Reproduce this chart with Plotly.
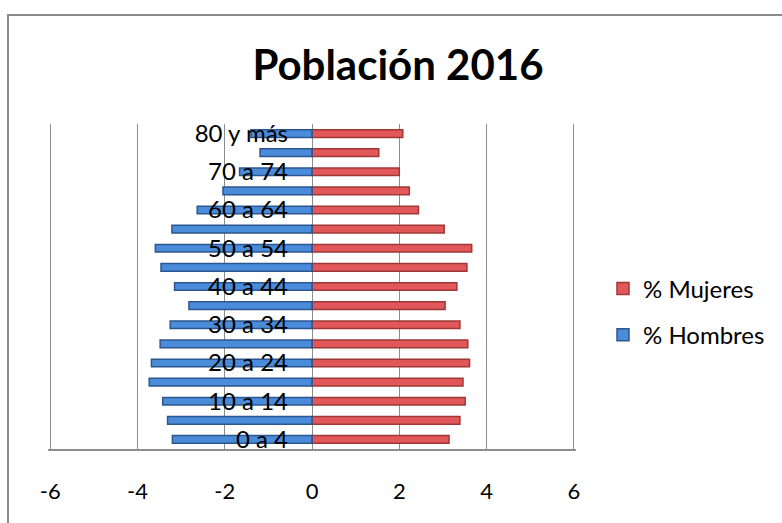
import plotly.graph_objects as go

categories = ["0 a 4", "5 a 9", "10 a 14", "15 a 19", "20 a 24", "25 a 29", "30 a 34",
              "35 a 39", "40 a 44", "45 a 49", "50 a 54", "55 a 59", "60 a 64",
              "65 a 69", "70 a 74", "75 a 79", "80 y más"]
hombres = [-3.20, -3.31, -3.42, -3.73, -3.68, -3.48, -3.25, -2.82, -3.15, -3.46,
           -3.59, -3.21, -2.63, -2.04, -1.66, -1.19, -1.40]
mujeres = [3.14, 3.39, 3.51, 3.46, 3.61, 3.57, 3.39, 3.05, 3.32, 3.55,
           3.66, 3.03, 2.44, 2.23, 2.00, 1.53, 2.08]
label_cats = categories[::2]
x_ticks = [-6, -4, -2, 0, 2, 4, 6]

W, H = 782, 523
ML, MR, MT, MB = 48, 206, 124, 74
FONT = "Lato"

fig = go.Figure()
fig.add_trace(go.Bar(
    y=categories, x=mujeres, orientation="h", name="% Mujeres",
    marker=dict(color="#E2575A", line=dict(color="#9E3836", width=1.5)),
    legendgroup="m", hoverinfo="x+y"))
fig.add_trace(go.Bar(
    y=categories, x=hombres, orientation="h", name="% Hombres",
    marker=dict(color="#4A8BDA", line=dict(color="#2C568F", width=1.5)),
    legendgroup="h", hoverinfo="x+y"))

pw = W - ML - MR
ph = H - MT - MB
fig.add_shape(type="rect", xref="paper", yref="paper",
              x0=(8 - ML) / pw, x1=(W + 10 - ML) / pw,
              y0=(H - MB - (H + 10)) / ph, y1=(H - MB - 15) / ph,
              line=dict(color="#8C8C8C", width=2), layer="below")

fig.update_layout(
    width=W, height=H,
    margin=dict(l=ML, r=MR, t=MT, b=MB, autoexpand=False),
    paper_bgcolor="white", plot_bgcolor="white",
    barmode="overlay", bargap=0.6,
    font=dict(family=FONT, size=22, color="black"),
    title=dict(text="<b>Población 2016</b>", x=398 / W, xanchor="center",
               y=1 - 65 / H, yanchor="middle", yref="container", xref="container",
               font=dict(family=FONT, size=42, color="black")),
    legend=dict(x=603 / W, xref="container", y=1 - 312 / H, yref="container",
                yanchor="middle", xanchor="left", traceorder="grouped",
                tracegroupgap=12, font=dict(size=24), bgcolor="rgba(0,0,0,0)"),
    xaxis=dict(range=[-6.05, 6.05], tickvals=x_ticks, ticktext=[str(v) for v in x_ticks],
               showgrid=True, gridcolor="#8C8C8C", gridwidth=1,
               zeroline=True, zerolinecolor="#8C8C8C", zerolinewidth=1,
               showline=True, linecolor="#8C8C8C", linewidth=2,
               ticks="", ticklabelstandoff=22, tickfont=dict(size=22), automargin=False),
    yaxis=dict(categoryorder="array", categoryarray=categories,
               range=[-0.5, len(categories) - 0.5],
               tickvals=label_cats, ticktext=label_cats,
               anchor="free", position=0.5, showgrid=False, zeroline=False,
               showline=False, ticks="", ticklabelstandoff=24,
               tickfont=dict(size=24), automargin=False),
)

fig.write_html("out.html", config={"displayModeBar": False},
               post_script="document.body.style.margin='0px';")
